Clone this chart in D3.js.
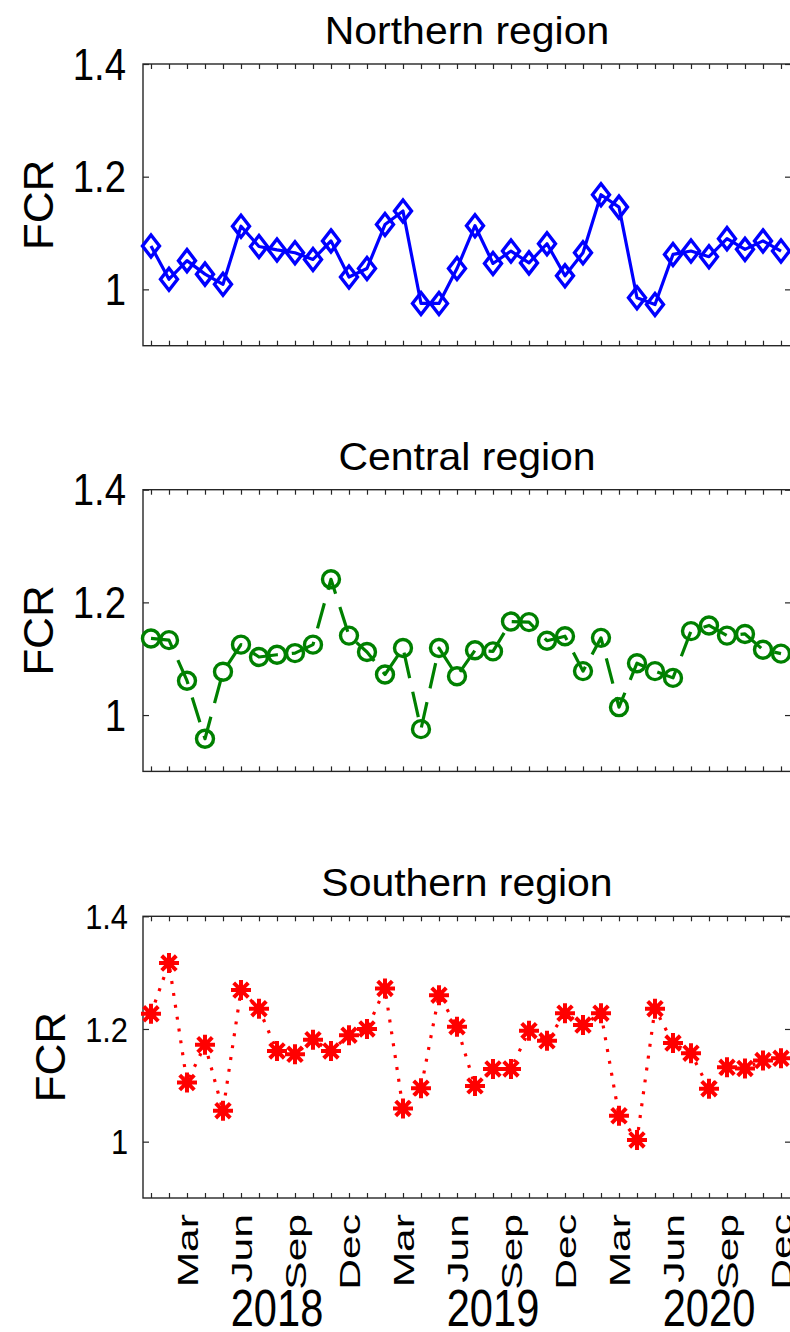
<!DOCTYPE html>
<html>
<head>
<meta charset="utf-8">
<script src="https://cdn.jsdelivr.net/npm/d3@7"></script>
<style>
    body { margin: 0; background: #fff; }
    text { font-family: "Liberation Sans", Arial, Helvetica, sans-serif; fill: #000; }
</style>
</head>
<body>
<svg id="chart"></svg>
<script>
/* data: monthly FCR, Jan 2018 .. Dec 2020 */
const months = ["Jan", "Feb", "Mar", "Apr", "May", "Jun", "Jul", "Aug", "Sep", "Oct", "Nov", "Dec"];
const years = ["2018", "2019", "2020"];
const labelledMonths = ["Mar", "Jun", "Sep", "Dec"];
const yTicks = [1, 1.2, 1.4];
const regions = ["Northern region", "Central region", "Southern region"];

const northern = [1.077, 1.018, 1.051, 1.027, 1.009, 1.112, 1.076, 1.070, 1.065, 1.053, 1.086, 1.022,
                  1.037, 1.115, 1.139, 0.975, 0.975, 1.037, 1.113, 1.046, 1.068, 1.047, 1.081, 1.024,
                  1.065, 1.168, 1.146, 0.985, 0.973, 1.062, 1.068, 1.058, 1.090, 1.071, 1.086, 1.068];
const central = [1.136, 1.133, 1.061, 0.958, 1.077, 1.125, 1.103, 1.107, 1.110, 1.125, 1.241, 1.141,
                 1.112, 1.072, 1.119, 0.975, 1.119, 1.069, 1.115, 1.113, 1.166, 1.165, 1.132, 1.140,
                 1.078, 1.137, 1.014, 1.092, 1.078, 1.066, 1.149, 1.159, 1.141, 1.144, 1.116, 1.109];
const southern = [1.227, 1.317, 1.105, 1.172, 1.055, 1.269, 1.236, 1.161, 1.155, 1.181, 1.161, 1.189,
                  1.200, 1.272, 1.059, 1.095, 1.260, 1.204, 1.099, 1.129, 1.129, 1.197, 1.179, 1.228,
                  1.207, 1.228, 1.046, 1.003, 1.236, 1.175, 1.157, 1.094, 1.132, 1.130, 1.144, 1.148];

// one entry per month: index 0 = Jan 2018
const timeline = [];
years.forEach(y => months.forEach(m => timeline.push({year: y, month: m})));

const svg = d3.select("#chart")
    .attr("width", 790)
    .attr("height", 1332);

const axisColor = "#262626";

// shared x scale, months run from the left spine (143) past the right edge
const x = d3.scaleLinear()
    .domain([-0.444, timeline.length - 0.444])
    .range([143, 791]);

// text with a stretch along its own direction
function label(g, str, tx, ty, size, sx, anchor, rot, dy) {
    return g.append("text")
        .attr("transform", `translate(${tx},${ty}) rotate(${rot || 0}) scale(${sx},1)`)
        .attr("text-anchor", anchor)
        .attr("dy", dy || 0)
        .style("font-size", size + "px")
        .text(str);
}

// diamond / circle / asterisk markers
function drawMarker(g, kind, color) {
    if (kind === "diamond") {
        g.append("path").attr("d", "M0,-11L8.5,0L0,11L-8.5,0Z")
            .attr("fill", "none").attr("stroke", color).attr("stroke-width", 3.4)
            .attr("stroke-linejoin", "miter");
    } else if (kind === "circle") {
        g.append("circle").attr("r", 8.5)
            .attr("fill", "none").attr("stroke", color).attr("stroke-width", 3.4);
    } else {
        const r = 10, d = 7.3;
        g.append("path")
            .attr("d", `M0,${-r}V${r}M${-r},0H${r}M${-d},${-d}L${d},${d}M${-d},${d}L${d},${-d}`)
            .attr("stroke", color).attr("stroke-width", 4);
    }
}

const panels = [
    {name: regions[0], values: northern, color: "#0000ff", marker: "diamond", dash: null,
     top: 64, tickSize: 44, tickSx: 0.87, tickRight: 126, fcrX: 38},
    {name: regions[1], values: central, color: "#008000", marker: "circle", dash: "26,14",
     top: 489.7, tickSize: 44, tickSx: 0.87, tickRight: 126, fcrX: 38},
    {name: regions[2], values: southern, color: "#ff0000", marker: "star", dash: "3,9",
     top: 916.3, tickSize: 35, tickSx: 0.88, tickRight: 128, fcrX: 50}
];

panels.forEach(p => {
    const bottom = p.top + 281.7;
    const y = d3.scaleLinear().domain([0.9, 1.4]).range([bottom, p.top]);
    const g = svg.append("g").attr("class", "panel");

    // box
    g.append("rect")
        .attr("x", x.range()[0]).attr("y", p.top)
        .attr("width", x.range()[1] - x.range()[0]).attr("height", bottom - p.top)
        .attr("fill", "none").attr("stroke", axisColor).attr("stroke-width", 1.4);

    // month ticks, inward on top and bottom
    const xTop = d3.axisTop(x).tickValues(d3.range(timeline.length)).tickSize(-5).tickFormat("");
    const xBot = d3.axisBottom(x).tickValues(d3.range(timeline.length)).tickSize(-5).tickFormat("");
    [[xTop, p.top], [xBot, bottom]].forEach(([ax, ty]) => {
        const a = g.append("g").attr("transform", `translate(0,${ty})`).call(ax);
        a.select(".domain").remove();
        a.selectAll("line").attr("stroke", axisColor).attr("stroke-width", 1.2);
    });

    // FCR ticks, inward on left and right
    const yL = d3.axisLeft(y).tickValues(yTicks).tickSize(-6).tickFormat("");
    const yR = d3.axisRight(y).tickValues(yTicks).tickSize(-6).tickFormat("");
    [[yL, x.range()[0]], [yR, x.range()[1]]].forEach(([ax, tx]) => {
        const a = g.append("g").attr("transform", `translate(${tx},0)`).call(ax);
        a.select(".domain").remove();
        a.selectAll("line").attr("stroke", axisColor).attr("stroke-width", 1.2);
    });

    yTicks.forEach(t => {
        label(g, d3.format("")(t), p.tickRight, y(t), p.tickSize, p.tickSx, "end", 0, "0.358em");
    });

    label(g, "FCR", p.fcrX, (p.top + bottom) / 2, 42, 1.05, "middle", -90, "0.358em");

    label(g, p.name, (x.range()[0] + x.range()[1]) / 2, p.top - 20, 39, 1.05, "middle", 0);

    // line
    const line = d3.line()
        .x((d, i) => x(i))
        .y(d => y(d));

    g.append("path")
        .datum(p.values)
        .attr("d", line)
        .attr("fill", "none")
        .attr("stroke", p.color)
        .attr("stroke-width", 3.2)
        .attr("stroke-dasharray", p.dash)
        .attr("stroke-linejoin", "round");

    g.selectAll("g.mark")
        .data(p.values)
        .enter()
        .append("g")
        .attr("class", "mark")
        .attr("transform", (d, i) => `translate(${x(i)},${y(d)})`)
        .each(function() { drawMarker(d3.select(this), p.marker, p.color); });
});

// month labels under the last panel
const axisG = svg.append("g");
timeline.forEach((t, i) => {
    if (labelledMonths.includes(t.month)) {
        label(axisG, t.month, x(i), 1214, 30, 1.42, "end", -90, "0.36em");
    }
});

years.forEach((yr, k) => {
    label(axisG, yr, x(k * months.length + 7), 1326, 52, 0.8, "middle", 0);
});
</script>
</body>
</html>
